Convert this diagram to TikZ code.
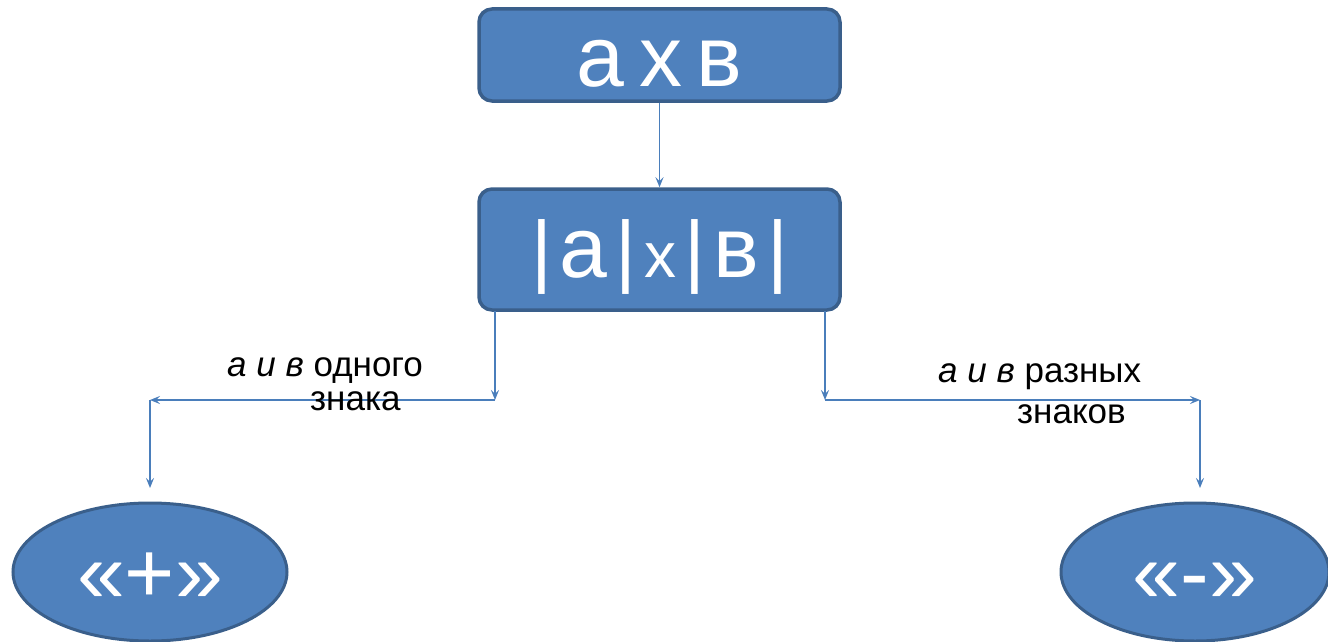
\documentclass[tikz,border=0pt]{standalone}
\usepackage{fontspec}
\setmainfont{Liberation Sans}
\usetikzlibrary{arrows.meta,shapes.geometric}
\definecolor{boxfill}{HTML}{4F81BD}
\definecolor{boxline}{HTML}{3A5F8B}
\definecolor{conn}{HTML}{4A7EBB}
\tikzset{
  bluebox/.style={draw=boxline,line width=3.5pt,fill=boxfill,rounded corners=13pt,text=white,inner sep=0pt,text depth=0pt},
  blueell/.style={ellipse,draw=boxline,line width=3pt,fill=boxfill,text=white,inner sep=0pt,text depth=0pt,text height=60pt},
  arr/.style={draw=conn,line width=1.4pt,-{Stealth[length=10pt,width=8pt,inset=4pt]}},
  lbl/.style={font=\fontsize{35}{38}\selectfont,inner sep=0pt,anchor=base west}
}
\newcommand{\gap}{\hspace{15pt}}
\newcommand{\bargap}{\hspace{8pt}}
\begin{document}
\begin{tikzpicture}[x=1pt,y=-1pt]
\useasboundingbox (0,0) rectangle (1328,642);
\node[bluebox,minimum width=361pt,minimum height=92pt,text height=64pt] (b1) at (659.5,55) {\fontsize{86}{86}\selectfont а\gap х\gap в};
\node[bluebox,minimum width=361pt,minimum height=121pt,text height=55pt] (b2) at (659.5,249.5) {\fontsize{86}{86}\selectfont {\fontsize{80}{80}\selectfont|}\bargap а\bargap{\fontsize{80}{80}\selectfont|}\bargap{\fontsize{64}{64}\selectfont х}\bargap{\fontsize{80}{80}\selectfont|}\bargap в\bargap{\fontsize{80}{80}\selectfont|}};
\node[blueell,minimum width=274pt,minimum height=138pt] (e1) at (150,572) {\fontsize{86}{86}\selectfont «+»};
\node[blueell,minimum width=268pt,minimum height=138pt] (e2) at (1195,572) {\fontsize{86}{86}\selectfont «-»};
\coordinate (sL) at (495,311);
\coordinate (mL) at (495,400);
\coordinate (cL) at (150,400);
\coordinate (tL) at (150,488);
\coordinate (sR) at (825,311);
\coordinate (mR) at (825,400);
\coordinate (cR) at (1200,400);
\coordinate (tR) at (1200,488);
\draw[arr] (b1.south) -- (b2.north);
\draw[arr] (sL) -- (mL);
\draw[arr] (mL) -- (cL);
\draw[arr] (cL) -- (tL);
\draw[arr] (sR) -- (mR);
\draw[arr] (mR) -- (cR);
\draw[arr] (cR) -- (tR);
\node[lbl] (l1) at (227,376) {\itshape а и в\upshape{} одного};
\node[lbl] (l2) at (310,410) {знака};
\node[lbl] (r1) at (938,382) {\itshape а и в\upshape{} разных};
\node[lbl] (r2) at (1017,423) {знаков};
\end{tikzpicture}
\end{document}
